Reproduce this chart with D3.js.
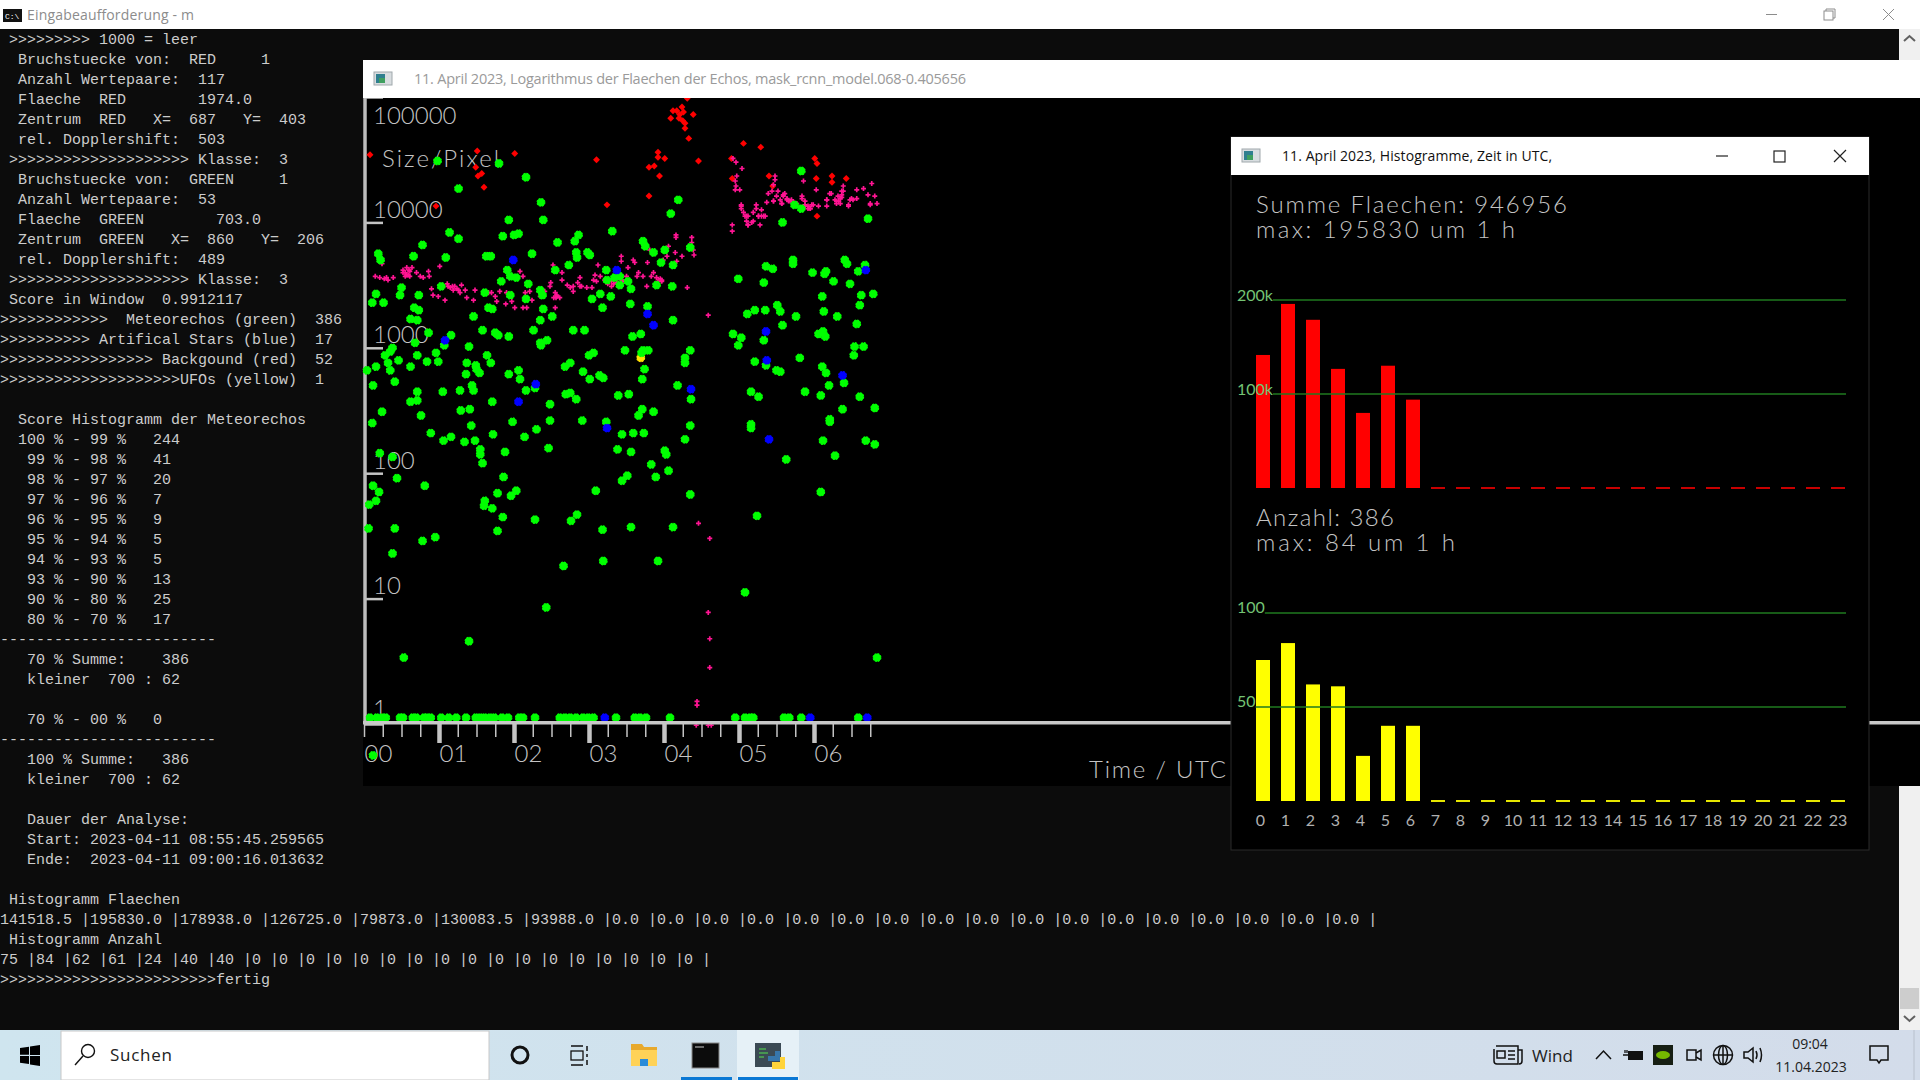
<!DOCTYPE html>
<html>
<head>
<meta charset="utf-8">
<title>Meteorechos</title>
<script src="https://cdn.jsdelivr.net/npm/d3@7"></script>
<style>
    html, body { margin: 0; padding: 0; background: #0c0c0c; overflow: hidden; }
    svg { display: block; }
    text { white-space: pre; }
    .term { font-family: "Liberation Mono", monospace; font-size: 15px; fill: #cccccc; }
    .cv { font-family: Lato, sans-serif; font-weight: 300; font-size: 24px; fill: #c4c4c4; }
    .ui { font-family: "Open Sans", sans-serif; }
</style>
</head>
<body>
<div id="screen"></div>
<script>
// Histogramm values per hour (UTC)
const hourLabels = d3.range(24).map(String);
const flaechen = [141518.5, 195830.0, 178938.0, 126725.0, 79873.0, 130083.5, 93988.0, 0, 0, 0, 0, 0, 0, 0, 0, 0, 0, 0, 0, 0, 0, 0, 0, 0];
const anzahl = [75, 84, 62, 61, 24, 40, 40, 0, 0, 0, 0, 0, 0, 0, 0, 0, 0, 0, 0, 0, 0, 0, 0, 0];

const flaechenTicks = [[100000, '100k'], [200000, '200k']];
const anzahlTicks = [[50, '50'], [100, '100']];
const yTickLabels = ['1', '10', '100', '1000', '10000', '100000'];

// Echos: [hour UTC, log10 of area]
const meteorEchos = [
    [1.26,4.27],[1.80,4.47],[.98,4.49],[2.16,4.36],[2.36,4.16],[1.93,4.02],[2.39,4.02],[1.14,3.92],[1.26,3.87],[.78,3.82],
    [1.85,3.89],[2.00,3.90],[2.06,3.91],[2.58,3.84],[2.86,3.90],[2.81,3.85],[3.31,3.93],[4.19,4.18],[4.09,4.07],[3.72,3.85],
    [3.75,3.81],[3.86,3.76],[4.01,3.78],[4.35,3.80],[3.96,3.68],[4.12,3.66],[.19,3.75],[.22,3.70],[.66,3.73],[1.09,3.72],
    [1.63,3.73],[1.69,3.73],[2.24,3.75],[2.83,3.76],[2.84,3.72],[2.98,3.76],[3.01,3.74],[2.73,3.66],[2.55,3.62],[1.91,3.62],
    [1.95,3.57],[2.03,3.56],[1.83,3.53],[2.19,3.51],[3.23,3.62],[3.34,3.56],[3.41,3.57],[3.24,3.54],[3.41,3.50],[3.52,3.53],
    [3.56,3.47],[3.90,3.50],[4.11,3.49],[1.03,3.49],[.50,3.48],[.16,3.43],[.48,3.42],[.73,3.42],[.11,3.36],[.26,3.36],
    [1.61,3.44],[1.95,3.42],[2.16,3.39],[2.35,3.46],[2.38,3.42],[3.04,3.39],[3.15,3.43],[3.29,3.41],[3.18,3.32],[3.55,3.35],
    [3.78,3.33],[.67,3.32],[.73,3.30],[1.66,3.32],[1.71,3.31],[2.39,3.31],[2.51,3.25],[1.46,3.25],[2.35,3.22],[.62,3.23],
    [.71,3.22],[4.12,3.22],[2.79,3.14],[2.94,3.14],[1.58,3.14],[2.26,3.14],[1.75,3.12],[1.79,3.10],[1.93,3.09],[1.16,3.10],
    [3.58,3.09],[3.69,3.11],[.68,3.04],[1.07,3.02],[.86,3.12],[2.35,3.04],[2.44,3.06],[2.36,3.02],[1.40,3.01],[.38,3.00],
    [.35,2.97],[.28,2.94],[.71,2.94],[.96,2.96],[1.64,2.94],[3.48,2.98],[3.72,2.98],[3.79,2.98],[3.70,2.96],[4.35,2.98],
    [3.06,2.96],[3.00,2.94],[4.28,2.92],[4.28,2.88],[.46,2.90],[.84,2.89],[.99,2.89],[1.37,2.88],[1.69,2.88],[.32,2.88],
    [.16,2.85],[.62,2.85],[1.49,2.86],[1.50,2.83],[1.54,2.80],[.04,2.82],[.35,2.82],[2.75,2.88],[2.68,2.85],[3.74,2.83],
    [2.92,2.81],[1.36,2.79],[1.93,2.79],[2.06,2.82],[2.08,2.75],[3.14,2.78],[3.19,2.76],[3.01,2.75],[3.71,2.75],[.41,2.73],
    [.12,2.70],[1.44,2.70],[1.46,2.66],[1.28,2.66],[1.05,2.65],[.71,2.65],[2.16,2.66],[2.28,2.68],[4.18,2.70],[2.69,2.63],
    [2.75,2.64],[2.83,2.59],[3.39,2.62],[3.53,2.63],[4.36,2.59],[.62,2.57],[.71,2.58],[1.71,2.57],[2.48,2.55],[.24,2.49],
    [1.29,2.50],[1.41,2.51],[3.71,2.51],[3.66,2.46],[3.86,2.49],[.76,2.46],
    [4.99,3.55],[5.36,3.65],[5.45,3.63],[5.33,3.52],[5.72,3.70],[5.72,3.67],[5.98,3.60],[6.16,3.61],[6.14,3.59],[6.26,3.53],
    [6.41,3.70],[6.44,3.67],[6.68,3.66],[6.59,3.61],[6.48,3.51],[6.11,3.41],[6.63,3.42],[6.79,3.43],[6.61,3.34],[6.13,3.29],
    [5.51,3.34],[5.55,3.29],[5.21,3.30],[5.35,3.30],[5.11,3.27],[5.76,3.25],[6.31,3.25],[6.57,3.19],[5.58,3.18],[4.92,3.11],
    [5.03,3.08],[4.99,3.02],[5.33,3.06],[6.06,3.11],[6.12,3.13],[6.15,3.09],[6.54,3.01],[6.66,3.01],[6.53,2.94],[5.81,2.92],
    [5.21,2.89],[5.36,2.86],[5.50,2.82],[5.55,2.81],[6.11,2.85],[6.16,2.80],[6.20,2.70],[6.40,2.72],[5.16,2.65],[5.26,2.61],
    [5.88,2.65],[6.09,2.62],[6.61,2.61],[6.38,2.51],[6.81,2.52],[5.83,4.41],[5.74,4.14],[5.83,4.11],[5.58,4.00],[6.72,4.03],
    [6.21,2.43],[.11,2.40],[1.98,2.41],[2.48,2.42],[2.91,2.42],[3.23,2.41],[1.43,2.38],[4.35,2.38],[5.16,2.39],[5.16,2.36],
    [.89,2.32],[1.16,2.29],[1.06,2.26],[1.34,2.25],[1.48,2.26],[1.72,2.31],[2.14,2.29],[2.30,2.35],[3.44,2.31],[3.59,2.32],
    [3.73,2.32],[4.28,2.27],[6.12,2.26],[6.69,2.26],[6.81,2.23],[6.21,2.41],[1.55,2.19],[1.55,2.15],[1.58,2.08],[1.88,2.17],
    [2.46,2.20],[3.38,2.19],[3.56,2.17],[4.01,2.18],[4.03,2.15],[3.83,2.07],[4.06,2.02],[3.89,1.97],[3.51,1.98],[3.44,1.94],
    [5.63,2.11],[6.28,2.14],[.21,2.16],[.38,2.13],[.44,1.96],[.12,1.90],[.20,1.85],[.16,1.78],[.07,1.75],[.81,1.90],
    [1.86,1.97],[1.78,1.84],[2.03,1.86],[1.96,1.82],[1.61,1.78],[1.60,1.74],[1.71,1.72],[1.85,1.65],[2.28,1.63],[3.09,1.86],
    [4.35,1.83],[6.09,1.85],[2.84,1.67],[2.76,1.62],[5.24,1.66],[.06,1.56],[.41,1.56],[1.78,1.54],[3.18,1.55],[3.56,1.57],
    [4.12,1.57],[.78,1.46],[.95,1.49],[.38,1.36],[2.66,1.26],[3.19,1.30],[3.92,1.30],[5.08,1.05],[2.43,.93],[1.40,.66],
    [.53,.53],[6.84,.53],[.12,-.25]
];
// Echos sitting on the time axis, log10 area about 0.05
const meteorEchosAmBoden = [
    .08,.17,.24,.29,.48,.52,.65,.70,.80,.84,.89,1.03,1.13,1.23,1.36,1.49,1.55,1.61,1.68,1.74,1.84,1.92,2.07,2.12,2.28,
    2.61,2.68,2.75,2.83,2.92,2.99,3.06,3.36,3.61,3.68,3.76,4.08,4.95,5.08,5.15,5.19,5.60,5.67,5.83,6.59
];
const artificalStars = [
    [1.99,3.70],[3.37,3.62],[3.78,3.27],[3.86,3.18],[1.08,3.06],[2.29,2.71],[2.06,2.57],[4.36,2.67],[5.36,3.13],[5.37,2.90],
    [6.38,2.78],[6.69,3.62],[3.24,2.36],[5.40,2.27],[3.21,.05],[5.95,.05],[6.71,.05]
];
const ufos = [[3.69,2.92]];
const background = [
    [4.31,4.99],[4.12,4.89],[4.09,4.83],[4.17,4.89],[4.24,4.92],[4.21,4.86],[4.26,4.88],[4.20,4.83],[4.25,4.81],[4.28,4.79],
    [4.28,4.75],[4.39,4.86],[4.33,4.67],[4.46,4.49],[.08,4.54],[1.51,4.57],[2.01,4.55],[1.49,4.44],[1.57,4.39],[1.52,4.37],
    [1.60,4.28],[.96,4.13],[3.10,4.50],[3.92,4.56],[3.92,4.52],[4.01,4.51],[3.80,4.44],[3.87,4.45],[3.94,4.37],[3.80,4.21],
    [3.24,4.14],[5.06,4.63],[5.29,4.60],[4.90,4.51],[4.91,4.35],[5.40,4.37],[5.45,4.29],[6.01,4.51],[6.04,4.47],[6.03,4.35],
    [6.24,4.37],[6.24,4.32],[6.43,4.35],[6.04,4.05]
];
const bruchstuecke = [
    [.15,3.57],[.21,3.56],[.30,3.56],[.32,3.54],[.39,3.56],[.52,3.60],[.57,3.64],[.61,3.61],[.55,3.57],[.59,3.58],[.64,3.64],
    [.70,3.60],[.75,3.57],[.79,3.56],[.86,3.61],[.87,3.57],[1.01,3.65],[.24,3.67],[.50,3.49],[.90,3.47],[.92,3.42],[.99,3.41],
    [1.08,3.38],[1.11,3.51],[1.15,3.48],[1.21,3.49],[1.26,3.46],[1.30,3.50],[1.35,3.46],[1.37,3.40],[1.48,3.46],[1.46,3.38],
    [1.66,3.44],[1.70,3.44],[1.75,3.41],[1.77,3.37],[1.81,3.45],[1.89,3.35],[1.90,3.44],[1.97,3.37],[2.01,3.32],[2.12,3.32],
    [2.17,3.32],[2.08,3.61],[2.12,3.57],[2.15,3.44],[2.21,3.45],[2.24,3.38],[2.37,3.42],[2.41,3.45],[2.49,3.52],[2.48,3.49],
    [2.52,3.66],[2.57,3.42],[2.61,3.40],[2.55,3.32],[2.64,3.60],[2.64,3.54],[2.71,3.50],[2.75,3.48],[2.79,3.45],[2.88,3.56],
    [2.90,3.49],[2.97,3.48],[3.04,3.48],[3.08,3.58],[3.12,3.66],[3.15,3.57],[3.10,3.53],[3.21,3.54],[3.30,3.53],[3.37,3.52],
    [3.43,3.73],[3.43,3.69],[3.52,3.64],[3.59,3.70],[3.61,3.68],[3.50,3.57],[3.64,3.57],[3.72,3.57],[3.78,3.68],[3.81,3.78],
    [3.86,3.60],[3.90,3.56],[3.97,3.54],[3.99,3.70],[4.06,3.81],[4.04,3.73],[4.16,3.90],[4.16,3.88],[4.15,3.76],[4.24,3.73],
    [4.37,3.88],[4.37,3.84],[4.39,3.78],[4.40,3.74],[4.31,3.48],[4.59,3.26],[4.17,3.69],[3.77,3.49],
    [.57,3.58],[.52,3.62],[.61,3.57],[1.12,3.49],[1.19,3.46],[1.28,3.44],[2.57,3.41],[2.55,3.44],[2.37,3.44],[2.79,3.49],
    [2.88,3.49],[3.06,3.54],[3.30,3.49],[3.44,3.54],[3.50,3.54],[3.66,3.60],[3.97,3.53],[3.83,3.57],
    [4.92,4.51],[4.96,4.48],[5.04,4.43],[4.97,4.37],[4.95,4.33],[4.96,4.29],[4.95,4.26],[5.01,4.26],[4.91,3.98],[4.91,3.93],
    [5.03,4.14],[5.03,4.11],[5.06,4.08],[5.12,4.05],[5.10,4.01],[5.12,3.98],[5.19,4.08],[5.23,4.14],[5.23,4.11],[5.19,4.01],
    [5.26,4.05],[5.28,3.98],[5.30,4.10],[5.35,4.05],[5.37,4.16],[5.39,4.23],[5.46,4.30],[5.48,4.37],[5.48,4.34],[5.44,4.25],
    [5.52,4.25],[5.46,4.17],[5.57,4.15],[5.61,4.23],[5.64,4.18],[5.70,4.18],[5.86,4.33],[5.84,4.21],[5.88,4.17],[5.92,4.13],
    [5.99,4.14],[6.03,4.26],[6.06,4.13],[6.17,4.18],[6.17,4.13],[6.21,4.23],[6.28,4.18],[6.32,4.21],[6.37,4.25],[6.39,4.29],
    [6.35,4.15],[6.46,4.13],[6.48,4.18],[6.57,4.26],[6.57,4.19],[6.66,4.27],[6.72,4.22],[6.77,4.31],[6.75,4.15],[6.81,4.21],
    [6.84,4.15],[5.55,4.18],[5.59,4.21],[5.66,4.17],[5.88,4.13],[5.95,4.11],[6.30,4.17],[6.37,4.20],[5.08,4.05],[5.17,4.00],
    [5.33,4.05],[4.46,1.60],[4.61,1.48],[4.59,.89],[4.61,.68],[4.61,.45],[4.44,.18],[4.44,.15],[4.43,-.01],[4.59,-.01],[4.63,-.01],
    [5.57,4.15],[5.64,4.19],[5.68,4.17],[5.88,4.14],[5.92,4.11],[5.97,4.14],[5.84,4.19],[6.30,4.15],[6.35,4.19],[6.39,4.25],
    [6.50,4.19],[6.46,4.14],[6.23,4.23],[6.17,4.18],[6.75,4.14],[5.30,4.05],[5.26,4.05],[5.10,4.05],[5.12,3.98],[5.03,4.13],
    [5.50,4.21],[5.46,4.17],[5.59,4.22],[5.73,4.16],[5.77,4.15],[5.95,4.11],[6.33,4.17],[6.37,4.22],[6.52,4.18],
    [.55,3.60],[.60,3.62],[.27,3.55],[1.18,3.49],[1.24,3.47],[2.53,3.40],[2.56,3.40],[2.35,3.41],[2.85,3.52],[3.25,3.51],
    [3.33,3.51],[3.45,3.53],[3.92,3.53],[3.95,3.55]
];

// Console output
const terminalLines = [
    ' >>>>>>>>> 1000 = leer',
    '  Bruchstuecke von:  RED     1',
    '  Anzahl Wertepaare:  117',
    '  Flaeche  RED        1974.0',
    '  Zentrum  RED   X=  687   Y=  403',
    '  rel. Dopplershift:  503',
    ' >>>>>>>>>>>>>>>>>>>> Klasse:  3',
    '  Bruchstuecke von:  GREEN     1',
    '  Anzahl Wertepaare:  53',
    '  Flaeche  GREEN        703.0',
    '  Zentrum  GREEN   X=  860   Y=  206',
    '  rel. Dopplershift:  489',
    ' >>>>>>>>>>>>>>>>>>>> Klasse:  3',
    ' Score in Window  0.9912117',
    '>>>>>>>>>>>>  Meteorechos (green)  386',
    '>>>>>>>>>> Artifical Stars (blue)  17',
    '>>>>>>>>>>>>>>>>> Backgound (red)  52',
    '>>>>>>>>>>>>>>>>>>>>UFOs (yellow)  1',
    '',
    '  Score Histogramm der Meteorechos',
    '  100 % - 99 %   244',
    '   99 % - 98 %   41',
    '   98 % - 97 %   20',
    '   97 % - 96 %   7',
    '   96 % - 95 %   9',
    '   95 % - 94 %   5',
    '   94 % - 93 %   5',
    '   93 % - 90 %   13',
    '   90 % - 80 %   25',
    '   80 % - 70 %   17',
    '------------------------',
    '   70 % Summe:    386',
    '   kleiner  700 : 62',
    '',
    '   70 % - 00 %   0',
    '------------------------',
    '   100 % Summe:   386',
    '   kleiner  700 : 62',
    '',
    '   Dauer der Analyse:',
    '   Start: 2023-04-11 08:55:45.259565',
    '   Ende:  2023-04-11 09:00:16.013632',
    '',
    ' Histogramm Flaechen',
    flaechen.map(v => v.toFixed(1) + ' |').join(''),
    ' Histogramm Anzahl',
    anzahl.map(v => v + ' |').join(''),
    '>>>>>>>>>>>>>>>>>>>>>>>>fertig'
];

document.addEventListener('DOMContentLoaded', function() {
    const svg = d3.select('#screen')
        .append('svg')
        .attr('width', 1920)
        .attr('height', 1080);

    drawTerminal(svg);
    drawScatterWindow(svg);
    drawHistogramWindow(svg);
    drawTaskbar(svg);
});

function drawTerminal(svg) {
    svg.append('rect').attr('width', 1920).attr('height', 1080).attr('fill', '#0c0c0c');
    svg.append('rect').attr('width', 1920).attr('height', 29).attr('fill', '#ffffff');

    // console icon
    svg.append('rect').attr('x', 3).attr('y', 9).attr('width', 19).attr('height', 13).attr('fill', '#111');
    svg.append('text').attr('x', 5).attr('y', 19).attr('font-size', 8).attr('font-family', 'Liberation Mono')
        .attr('fill', '#fff').text('C:\\');

    svg.append('text').attr('class', 'ui').attr('x', 27).attr('y', 20)
        .attr('font-size', 14).attr('fill', '#8c8c8c').attr('textLength', 167).text('Eingabeaufforderung - m');

    // window buttons
    const btn = svg.append('g').attr('stroke', '#8c8c8c').attr('fill', 'none');
    btn.append('line').attr('x1', 1766).attr('x2', 1777).attr('y1', 14.5).attr('y2', 14.5);
    btn.append('rect').attr('x', 1824).attr('y', 11).attr('width', 9).attr('height', 9);
    btn.append('path').attr('d', 'M1826 11v-2h9v9h-2');
    btn.append('path').attr('d', 'M1883 9l11 11M1894 9l-11 11');

    // scrollbar
    svg.append('rect').attr('x', 1899).attr('y', 29).attr('width', 21).attr('height', 1001).attr('fill', '#f0f0f0');
    svg.append('rect').attr('x', 1900).attr('y', 988).attr('width', 19).attr('height', 21).attr('fill', '#cdcdcd');
    svg.append('path').attr('d', 'M1904 41l5.5-5 5.5 5').attr('fill', 'none').attr('stroke', '#606060').attr('stroke-width', 2);
    svg.append('path').attr('d', 'M1904 1016l5.5 5 5.5-5').attr('fill', 'none').attr('stroke', '#606060').attr('stroke-width', 2);

    svg.append('g').selectAll('text')
        .data(terminalLines)
        .enter()
        .append('text')
        .attr('class', 'term')
        .attr('x', 0)
        .attr('y', (d, i) => 44 + i * 20)
        .text(d => d);
}

function drawWindowIcon(svg, x, y) {
    svg.append('rect').attr('x', x).attr('y', y).attr('width', 18).attr('height', 13)
        .attr('fill', '#d8dde0').attr('stroke', '#a0a8ac');
    svg.append('rect').attr('x', x + 2).attr('y', y + 2).attr('width', 9).attr('height', 9).attr('fill', '#2f7f8f');
    svg.append('rect').attr('x', x + 5).attr('y', y + 6).attr('width', 6).attr('height', 5).attr('fill', '#3f9f5f');
}

// round echo with the bumpy rim the reference shows
function drawDots(g, data, x, y, color) {
    g.append('g').selectAll('circle')
        .data(data)
        .enter()
        .append('circle')
        .attr('cx', d => x(d[0]))
        .attr('cy', d => y(d[1]))
        .attr('r', 3.9)
        .attr('fill', color)
        .attr('stroke', color)
        .attr('stroke-width', 1.1)
        .attr('stroke-dasharray', '2 1.06');
}

function drawScatterWindow(svg) {
    const x = d3.scaleLinear().domain([0, 7]).range([364, 889]);
    const y = d3.scaleLinear().domain([0, 5]).range([724, 97]);
    const g = svg.append('g');

    g.append('rect').attr('x', 363).attr('y', 60).attr('width', 1557).attr('height', 726).attr('fill', '#000');

    // vertical axis
    const yAxis = d3.axisRight(y)
        .tickValues(d3.range(0, 6))
        .tickSize(18)
        .tickFormat(d => yTickLabels[d]);
    const yG = g.append('g').attr('transform', 'translate(365,0)').call(yAxis);
    yG.select('.domain').remove();
    yG.selectAll('line').attr('stroke', '#c4c4c4').attr('stroke-width', 2.5);
    yG.selectAll('text')
        .attr('class', 'cv')
        .attr('x', 8)
        .attr('dy', 0)
        .attr('y', d => d === 5 ? 26 : d === 0 ? -8 : -5);
    g.append('line').attr('x1', 365).attr('x2', 365).attr('y1', 98).attr('y2', 722)
        .attr('stroke', '#bdbdbd').attr('stroke-width', 3.5);

    g.append('text').attr('class', 'cv').attr('x', 382).attr('y', 167)
        .attr('textLength', 117).text('Size/Pixel');

    // time axis
    const xAxis = d3.axisBottom(x)
        .tickValues(d3.range(0, 7, 0.25))
        .tickSize(15)
        .tickFormat(d => Number.isInteger(d) ? '0' + d : '');
    const xG = g.append('g').attr('transform', 'translate(0,722)').call(xAxis);
    xG.select('.domain').remove();
    xG.selectAll('line')
        .attr('stroke', '#c4c4c4')
        .attr('stroke-width', d => (Number.isInteger(d) && d > 0) ? 4.5 : 1.5)
        .attr('y2', d => (Number.isInteger(d) && d > 0) ? 21 : 15);
    xG.selectAll('text')
        .attr('class', 'cv')
        .attr('text-anchor', 'start')
        .attr('dy', 0)
        .attr('y', 40);
    g.append('text').attr('class', 'cv').attr('x', 1089).attr('y', 778)
        .attr('textLength', 137).text('Time / UTC');

    // echos
    const red = d3.symbol().type(d3.symbolSquare).size(24);
    const cross = d3.symbol().type(d3.symbolCross).size(14);

    g.append('g').selectAll('path')
        .data(background)
        .enter()
        .append('path')
        .attr('d', red)
        .attr('fill', '#ff0000')
        .attr('transform', d => `translate(${x(d[0])},${y(d[1])}) rotate(45)`);

    g.append('g').selectAll('path')
        .data(bruchstuecke)
        .enter()
        .append('path')
        .attr('d', cross)
        .attr('fill', '#ff1493')
        .attr('transform', d => `translate(${x(d[0])},${y(d[1])})`);

    drawDots(g, ufos, x, y, '#ffe000');
    drawDots(g, meteorEchos.concat(meteorEchosAmBoden.map(h => [h, 0.05])), x, y, '#00ff00');
    drawDots(g, artificalStars, x, y, '#0000ff');

    g.append('rect').attr('x', 363).attr('y', 721).attr('width', 1557).attr('height', 3.5).attr('fill', '#c8c8c8');

    // title bar
    g.append('rect').attr('x', 363).attr('y', 60).attr('width', 1557).attr('height', 38).attr('fill', '#fff');
    drawWindowIcon(g, 374, 72);
    g.append('text').attr('class', 'ui').attr('x', 414).attr('y', 84).attr('font-size', 14.5)
        .attr('fill', '#9a9a9a').attr('textLength', 552)
        .text('11. April 2023, Logarithmus der Flaechen der Echos, mask_rcnn_model.068-0.405656');
}

function drawHistogram(g, opts) {
    const x = d3.scaleBand().domain(hourLabels).range([1256, 1845]).paddingInner(0.44).paddingOuter(0).align(0);
    const y = d3.scaleLinear().domain([0, opts.max]).range([opts.base, opts.top]);

    g.selectAll(null)
        .data(opts.values)
        .enter()
        .append('rect')
        .attr('x', (d, i) => x(hourLabels[i]))
        .attr('y', d => d > 0 ? y(d) : opts.base - 1)
        .attr('width', x.bandwidth())
        .attr('height', d => d > 0 ? y(0) - y(d) : 2)
        .attr('fill', d => d > 0 ? opts.color : opts.zeroColor);

    opts.ticks.forEach(function(t) {
        const label = g.append('text')
            .attr('class', 'cv')
            .attr('x', 1237)
            .attr('y', y(t[0]) + opts.labelDy)
            .style('font-size', '16px')
            .style('font-weight', 400)
            .style('fill', '#74c474')
            .text(t[1]);
        const right = 1237 + label.node().getComputedTextLength();
        g.append('line')
            .attr('x1', right)
            .attr('x2', 1846)
            .attr('y1', y(t[0]))
            .attr('y2', y(t[0]))
            .attr('stroke', '#1f7a1f')
            .attr('stroke-width', 1.6);
    });
}

function drawHistogramWindow(svg) {
    const g = svg.append('g');
    g.append('rect').attr('x', 1231).attr('y', 137).attr('width', 638).attr('height', 713)
        .attr('fill', '#000').attr('stroke', '#2a2a2a');
    g.append('rect').attr('x', 1231).attr('y', 137).attr('width', 638).attr('height', 38).attr('fill', '#fff');
    drawWindowIcon(g, 1242, 149);
    g.append('text').attr('class', 'ui').attr('x', 1282).attr('y', 161).attr('font-size', 14)
        .attr('fill', '#111').attr('textLength', 270).text('11. April 2023, Histogramme, Zeit in UTC,');

    const btn = g.append('g').attr('stroke', '#222').attr('fill', 'none').attr('stroke-width', 1.2);
    btn.append('line').attr('x1', 1716).attr('x2', 1728).attr('y1', 156).attr('y2', 156);
    btn.append('rect').attr('x', 1774).attr('y', 151).attr('width', 11).attr('height', 11);
    btn.append('path').attr('d', 'M1834 150l12 12M1846 150l-12 12');

    const notes = [
        ['Summe Flaechen: 946956', 213, 311],
        ['max: 195830 um 1 h', 238, 259],
        ['Anzahl: 386', 526, 138],
        ['max: 84 um 1 h', 551, 199]
    ];
    g.selectAll(null)
        .data(notes)
        .enter()
        .append('text')
        .attr('class', 'cv')
        .attr('x', 1256)
        .attr('y', d => d[1])
        .attr('textLength', d => d[2])
        .text(d => d[0]);

    drawHistogram(g.append('g'), {
        values: flaechen, ticks: flaechenTicks, max: 200000, base: 488, top: 300,
        color: '#ff0000', zeroColor: '#c80000', labelDy: 1
    });
    drawHistogram(g.append('g'), {
        values: anzahl, ticks: anzahlTicks, max: 100, base: 801, top: 613,
        color: '#ffff00', zeroColor: '#e6e600', labelDy: 0
    });

    const xScale = d3.scaleBand().domain(hourLabels).range([1256, 1845]).paddingInner(0.44).paddingOuter(0).align(0);
    const axis = g.append('g').attr('transform', 'translate(0,803)')
        .call(d3.axisBottom(xScale).tickSize(0).tickPadding(0));
    axis.select('.domain').remove();
    axis.selectAll('text')
        .attr('class', 'cv')
        .style('font-size', '16px')
        .style('font-weight', 400)
        .style('fill', '#b0b0b0')
        .attr('dy', 0)
        .attr('x', d => d.length === 1 ? -2.5 : 0)
        .attr('y', 23);
}

function drawTaskbar(svg) {
    const defs = svg.append('defs');
    const grad = defs.append('linearGradient').attr('id', 'bar');
    grad.append('stop').attr('offset', '0').attr('stop-color', '#cfe5ef');
    grad.append('stop').attr('offset', '1').attr('stop-color', '#d3dcea');

    const g = svg.append('g');
    g.append('rect').attr('y', 1030).attr('width', 1920).attr('height', 50).attr('fill', 'url(#bar)');

    // start button
    g.append('path').attr('d', 'M20 1048l9-1.3v8h-9zM30 1046.5l10-1.5v10h-10zM20 1056h9v8l-9-1.3zM30 1056h10v10l-10-1.5z').attr('fill', '#000');

    // search box
    g.append('rect').attr('x', 61).attr('y', 1031).attr('width', 428).attr('height', 49)
        .attr('fill', '#fff').attr('stroke', '#c8c8c8');
    g.append('circle').attr('cx', 88).attr('cy', 1051).attr('r', 6.5).attr('fill', 'none').attr('stroke', '#111').attr('stroke-width', 1.4);
    g.append('line').attr('x1', 83).attr('y1', 1056).attr('x2', 75).attr('y2', 1065).attr('stroke', '#111').attr('stroke-width', 1.4);
    g.append('text').attr('class', 'ui').attr('x', 110).attr('y', 1061).attr('font-size', 17).attr('fill', '#222')
        .attr('textLength', 62).text('Suchen');

    g.append('circle').attr('cx', 520).attr('cy', 1055).attr('r', 8).attr('fill', 'none').attr('stroke', '#111').attr('stroke-width', 3);

    // task view
    g.append('rect').attr('x', 571).attr('y', 1051).attr('width', 12).attr('height', 9).attr('fill', 'none').attr('stroke', '#111').attr('stroke-width', 1.3);
    g.append('path').attr('d', 'M571 1046h12M571 1065h12M587 1046v5M587 1054v3M587 1060v5').attr('fill', 'none').attr('stroke', '#111').attr('stroke-width', 1.5);

    // explorer
    g.append('path').attr('d', 'M631 1044h11l2 3h13v6h-26z').attr('fill', '#e8a92c');
    g.append('rect').attr('x', 631).attr('y', 1050).attr('width', 26).attr('height', 16).attr('fill', '#ffd257');
    g.append('path').attr('d', 'M640 1066v-7h8v7').attr('fill', '#2a8bd8');

    // terminal button
    g.append('rect').attr('x', 692).attr('y', 1043).attr('width', 27).attr('height', 25).attr('fill', '#0c0c0c').attr('stroke', '#888');
    g.append('path').attr('d', 'M695 1047h9').attr('stroke', '#ccc');
    g.append('rect').attr('x', 681).attr('y', 1077).attr('width', 51).attr('height', 3).attr('fill', '#0a78d4');

    // python button
    g.append('rect').attr('x', 737).attr('y', 1030).attr('width', 62).attr('height', 50).attr('fill', '#e6f1f7');
    g.append('rect').attr('x', 755).attr('y', 1043).attr('width', 26).attr('height', 24).attr('fill', '#3b4a54');
    g.append('path').attr('d', 'M759 1049h7M759 1053h9M759 1057h5').attr('stroke', '#4caf50').attr('stroke-width', 1.5);
    g.append('path').attr('d', 'M768 1056h7v-5h5v10h-12z').attr('fill', '#3776ab');
    g.append('path').attr('d', 'M772 1062h8v-5h5v12h-13z').attr('fill', '#ffd43b');
    g.append('rect').attr('x', 738).attr('y', 1077).attr('width', 60).attr('height', 3).attr('fill', '#0a78d4');

    // tray
    const tray = g.append('g').attr('fill', 'none').attr('stroke', '#111').attr('stroke-width', 1.5);
    tray.append('path').attr('d', 'M1496 1046h22v18h-21q-3 0-3-3v-12M1518 1050h4v11q0 3-3 3');
    tray.append('rect').attr('x', 1497).attr('y', 1051).attr('width', 8).attr('height', 7);
    tray.append('path').attr('d', 'M1508 1051h7M1508 1055h7M1508 1059h7');
    g.append('text').attr('class', 'ui').attr('x', 1532).attr('y', 1062).attr('font-size', 17).attr('fill', '#222').text('Wind');
    tray.append('path').attr('d', 'M1596 1059l7.5-8 7.5 8');

    g.append('rect').attr('x', 1628).attr('y', 1051).attr('width', 15).attr('height', 9).attr('fill', '#111');
    g.append('path').attr('d', 'M1623 1055h5M1625 1050v3M1627 1050v3').attr('stroke', '#111').attr('stroke-width', 1.3);

    g.append('rect').attr('x', 1653).attr('y', 1045).attr('width', 20).attr('height', 20).attr('fill', '#171f14');
    g.append('ellipse').attr('cx', 1663).attr('cy', 1055).attr('rx', 7).attr('ry', 4).attr('fill', '#76b900');

    tray.append('rect').attr('x', 1687).attr('y', 1050).attr('width', 9).attr('height', 10);
    tray.append('path').attr('d', 'M1696 1053l5-3v10l-5-3');
    tray.append('circle').attr('cx', 1723).attr('cy', 1055).attr('r', 9.5);
    tray.append('path').attr('d', 'M1713.5 1055h19M1723 1045.5v19');
    tray.append('ellipse').attr('cx', 1723).attr('cy', 1055).attr('rx', 4.5).attr('ry', 9.5);
    tray.append('path').attr('d', 'M1744 1052h4l5-4v14l-5-4h-4z');
    tray.append('path').attr('d', 'M1756 1051q2 4 0 8M1760 1048q3 7 0 14');

    g.append('text').attr('class', 'ui').attr('x', 1810).attr('y', 1049).attr('text-anchor', 'middle')
        .attr('font-size', 14).attr('fill', '#222').text('09:04');
    g.append('text').attr('class', 'ui').attr('x', 1811).attr('y', 1072).attr('text-anchor', 'middle')
        .attr('font-size', 14).attr('fill', '#222').text('11.04.2023');

    tray.append('path').attr('d', 'M1870 1046h18v14h-7l-2 3-2-3h-7z');
    g.append('line').attr('x1', 1914).attr('x2', 1914).attr('y1', 1030).attr('y2', 1080).attr('stroke', '#b8c0cc');
}
</script>
</body>
</html>
